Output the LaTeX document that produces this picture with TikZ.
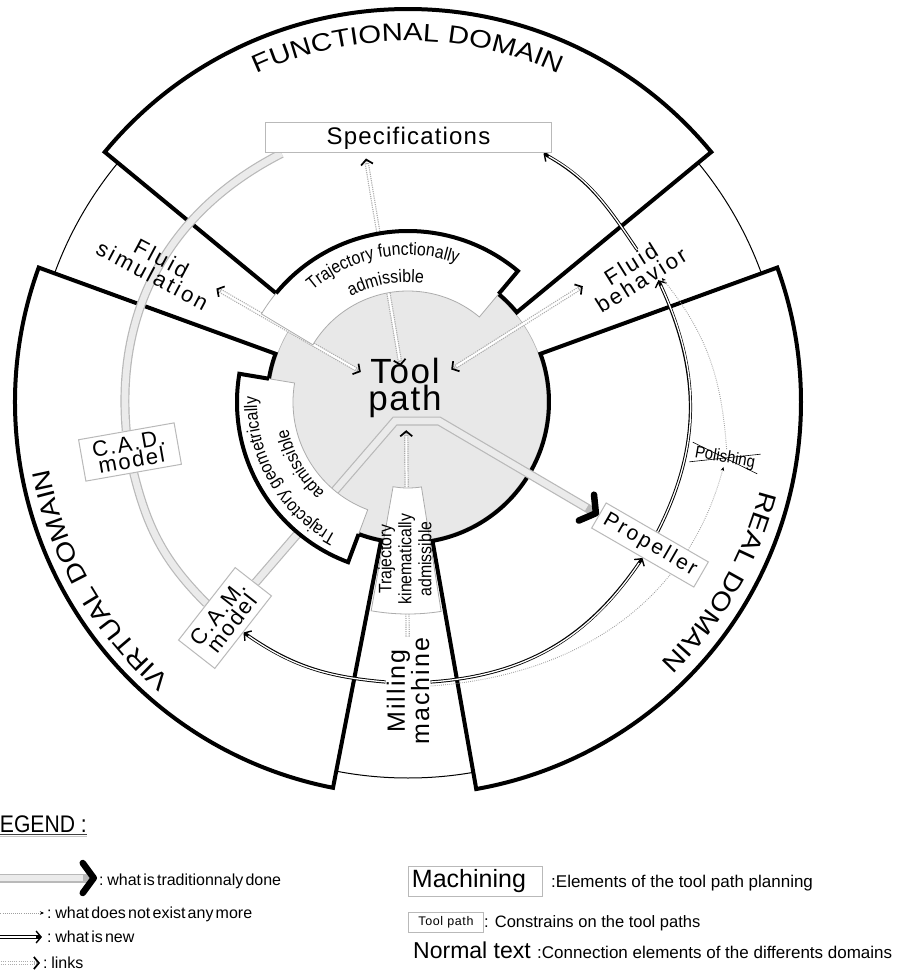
\documentclass[tikz,border=0pt]{standalone}
\usepackage{fontspec}
\setmainfont{Liberation Sans}
\newfontfamily\lsA[LetterSpace=5]{Liberation Sans}
\newfontfamily\lsB[LetterSpace=8]{Liberation Sans}
\newfontfamily\lsC[LetterSpace=12]{Liberation Sans}
\newfontfamily\narf[FakeStretch=0.88]{Liberation Sans}
\newfontfamily\widef[FakeStretch=1.17]{Liberation Sans}
\usetikzlibrary{arrows.meta,decorations.text}
\pgfdeclarelayer{Lzero}
\pgfdeclarelayer{Lone}
\pgfdeclarelayer{Ltwo}
\pgfsetlayers{Lzero,Lone,Ltwo,main}
\newcommand\annsec[4]{(#1:#3) -- (#1:#4) arc[start angle=#1, end angle=#2, radius=#4pt] -- (#2:#3) arc[start angle=#2, end angle=#1, radius=#3pt] -- cycle}
\newcommand\domfont{\widef\fontsize{25}{25}\selectfont}
\newcommand\cfont{\narf\fontsize{18}{18}\selectfont}
\newcommand\legfont{\fontsize{16}{16}\selectfont\spaceskip=2.2pt plus 0.5pt minus 0.5pt\relax}
\tikzset{
  domsec/.style={draw=black, fill=white, line width=4pt, line join=miter},
  thickedge/.style={draw=black, line width=4pt, line join=miter},
  thinedge/.style={draw=gray!65, line width=0.8pt},
  boxed/.style={draw=gray!55, fill=white, line width=1pt},
  tradplain/.style={draw=gray!55, line width=9pt, postaction={draw=gray!16, line width=6.6pt}},
  tradband/.style={draw=gray!55, line width=9pt, -{Straight Barb[color=black,length=11pt,width=30pt,line width=6.5pt,round]}, postaction={draw=gray!16, line width=6.6pt, -, shorten >=14pt}},
  newarr/.style={draw=black, line width=3.2pt, -{Straight Barb[color=black,length=5pt,width=12pt,line width=1.4pt]}, postaction={draw=white, line width=1.3pt, -, shorten >=6pt}},
  linkboth/.style={draw=gray!65, line width=4.4pt, dash pattern=on 1.1pt off 1.1pt, {Straight Barb[color=black,length=5pt,width=12pt,line width=1.7pt]}-{Straight Barb[color=black,length=5pt,width=12pt,line width=1.7pt]}, postaction={draw=white, line width=2pt, solid, -, shorten >=6pt, shorten <=6pt}},
  linkone/.style={draw=gray!65, line width=4.4pt, dash pattern=on 1.1pt off 1.1pt, -{Straight Barb[color=black,length=5pt,width=12pt,line width=1.7pt]}, postaction={draw=white, line width=2pt, solid, -, shorten >=6pt}},
  nomore/.style={draw=gray!75, line width=0.9pt, dash pattern=on 0.8pt off 1.3pt, -{Stealth[color=black,length=4pt,width=3.5pt]}},
  legtext/.style={anchor=base west, inner sep=0pt, font=\legfont},
}
\begin{document}
\begin{tikzpicture}[x=1pt, y=1pt]
\useasboundingbox (-408,-570) rectangle (498,402);
\begin{pgfonlayer}{Lzero}
\fill[white] (-408,-570) rectangle (498,402);
\draw[black, line width=1pt] (0,0) circle[radius=376pt];
\fill[gray!18] (0,0) circle[radius=139pt];
\draw[gray!60, line width=0.6pt] (0,0) circle[radius=139pt];
\draw[domsec] \annsec{39.5}{140.5}{141}{393};
\draw[domsec] \annsec{160}{259}{141}{393};
\draw[domsec] \annsec{-80}{20}{141}{393};
\path[decorate, decoration={text along path, text align=center, text={|\domfont|FUNCTIONAL DOMAIN}}] (135:361) arc[start angle=135, end angle=45, radius=361pt];
\path[decorate, decoration={text along path, text align=center, text={|\domfont|VIRTUAL DOMAIN}}] (255:365) arc[start angle=255, end angle=165, radius=365pt];
\path[decorate, decoration={text along path, text align=center, text={|\domfont|REAL DOMAIN}}] (15:363) arc[start angle=15, end angle=-75, radius=363pt];
\end{pgfonlayer}

% nodes
\node[boxed, minimum width=285pt, minimum height=30pt, inner sep=0pt, font=\lsA\fontsize{24}{24}\selectfont] (spec) at (0.5,264) {Specifications};
\node[boxed, rotate=10, minimum width=97pt, minimum height=42pt, inner sep=1pt, align=center, font=\lsB\fontsize{22}{17}\selectfont] (cad) at (-278,-50) {C.A.D.\\model};
\node[boxed, rotate=52, minimum width=92pt, minimum height=46pt, inner sep=1pt, align=center, font=\lsB\fontsize{22}{17}\selectfont] (cam) at (-183,-216) {C.A.M.\\model};
\node[boxed, rotate=-30, minimum width=118pt, minimum height=29pt, inner sep=1pt, font=\lsC\fontsize{21}{21}\selectfont] (prop) at (242,-143) {Propeller};
\node[rotate=-10, inner sep=1pt, font=\narf\fontsize{17}{17}\selectfont] (pol) at (317,-56) {Polishing};
\draw[black, line width=0.6pt, shorten <=-3pt, shorten >=-3pt] (pol.north west) -- (pol.south east);
\draw[black, line width=0.6pt, shorten <=-3pt, shorten >=-3pt] (pol.south west) -- (pol.north east);
\node[rotate=-28, align=center, inner sep=1pt, font=\lsC\fontsize{22}{19}\selectfont] (fluidsim) at (-251,135) {Fluid\\simulation};
\node[rotate=32, align=center, inner sep=1pt, font=\lsC\fontsize{22}{19}\selectfont] (fluidbeh) at (228,130) {Fluid\\behavior};
\node[rotate=90, align=center, inner sep=1pt, font=\lsB\fontsize{25}{21}\selectfont] (mill) at (0,-289) {Milling\\machine};
\node[minimum width=90pt, minimum height=64pt, inner sep=0pt] (toolpath) at (-2,4) {};
\node[align=center, inner sep=0pt, font=\lsA\fontsize{35}{24}\selectfont] (tptext) at (-3,14) {Tool\\path};
\coordinate (b1) at (-13,-19);
\coordinate (b2) at (31,-19);

\begin{pgfonlayer}{Lone}
\draw[tradplain] ([xshift=16pt]spec.south west) to[out=207, in=95] (cad.north);
\draw[tradplain] (cad.south) to[out=284, in=135] (cam.north);
\draw[tradband] (cam) -- (b1) -- (b2) -- (prop);
\draw[newarr] ([yshift=9pt]mill.north) to[out=175, in=325] (cam.south);
\draw[newarr] ([yshift=9pt]mill.south) to[out=4, in=236] (prop.south);
\draw[newarr] (prop.north) to[out=63, in=295] (fluidbeh.-52);
\draw[newarr] (fluidbeh.56) to[out=124, in=331] ([xshift=-8pt]spec.south east);
\draw[nomore] ([yshift=5pt]mill.south) to[out=4, in=255] (pol.south);
\draw[nomore] (pol.north) to[out=94, in=309] (fluidbeh.-45);
\draw[linkboth] (fluidsim.8) -- (toolpath);
\draw[linkboth] (fluidbeh.163) -- (toolpath);
\draw[linkboth] (toolpath) -- ([xshift=-42.5pt,yshift=-5pt]spec.south);
\draw[linkone] (mill) -- (toolpath);
\end{pgfonlayer}

\begin{pgfonlayer}{Ltwo}
\fill[white] \annsec{50}{149}{111}{171};
\draw[thinedge] \annsec{50}{149}{111}{171};
\draw[thickedge] (50:141) -- (50:171) arc[start angle=50, end angle=140.5, radius=171pt];
\fill[white] \annsec{170.5}{249.5}{115}{171};
\draw[thinedge] \annsec{170.5}{249.5}{115}{171};
\draw[thickedge] (170.5:141) -- (170.5:171) arc[start angle=170.5, end angle=249.5, radius=171pt] -- (249.5:141);
\fill[white] \annsec{260}{279}{86}{212};
\draw[thinedge] \annsec{260}{279}{86}{212};
\path[decorate, decoration={text along path, text align=center, text={|\cfont|Trajectory functionally}}] (150.5:147) arc[start angle=150.5, end angle=50.5, radius=147pt];
\path[decorate, decoration={text along path, text align=center, text={|\cfont|admissible}}] (150.5:120) arc[start angle=150.5, end angle=50.5, radius=120pt];
\path[decorate, decoration={text along path, text align=center, text={|\cfont|Trajectory geometrically}}] (250:151) arc[start angle=250, end angle=170, radius=151pt];
\path[decorate, decoration={text along path, text align=center, text={|\cfont|admissible}}] (250:123) arc[start angle=250, end angle=170, radius=123pt];
\node[rotate=90, align=center, inner sep=0pt, font=\narf\fontsize{18}{20}\selectfont] (tka) at (-3,-157) {Trajectory\\kinematically\\admissible};
\end{pgfonlayer}

% legend
\node[anchor=base west, inner sep=0pt, font=\narf\fontsize{24}{24}\selectfont] (lgd) at (-420,-430) {LEGEND :};
\draw[black!75, line width=1.1pt] ([yshift=-2.5pt]lgd.base west) -- ([yshift=-2.5pt]lgd.base east);
\draw[gray!45, line width=1.1pt] ([yshift=-4.6pt]lgd.base west) -- ([yshift=-4.6pt]lgd.base east);
\coordinate (la1) at (-418,-476); \coordinate (lb1) at (-311,-476);
\draw[tradband] (la1) -- (lb1);
\node[legtext] (lt1) at (-309,-483) {: what is traditionnaly done};
\coordinate (la2) at (-418,-511); \coordinate (lb2) at (-364,-511);
\draw[nomore] (la2) -- (lb2);
\node[legtext] (lt2) at (-361,-516) {: what does not exist any more};
\coordinate (la3) at (-418,-535); \coordinate (lb3) at (-366,-535);
\draw[newarr] (la3) -- (lb3);
\node[legtext] (lt3) at (-361,-540) {: what is new};
\coordinate (la4) at (-418,-561); \coordinate (lb4) at (-368,-561);
\draw[linkone] (la4) -- (lb4);
\node[legtext] (lt4) at (-365,-566) {: links};
\node[boxed, minimum width=133pt, minimum height=30pt, inner sep=3pt, text width=127pt, align=left, font=\fontsize{25}{25}\selectfont] (lmach) at (67.5,-479) {Machining};
\node[anchor=base west, inner sep=0pt, font=\fontsize{17}{17}\selectfont] (lmachd) at (143,-485) {:Elements of the tool path planning};
\node[boxed, minimum width=74pt, minimum height=20pt, inner sep=1pt, font=\lsA\fontsize{12.5}{12.5}\selectfont] (ltool) at (38,-520) {Tool path};
\node[anchor=base west, inner sep=0pt, font=\fontsize{16.5}{16.5}\selectfont] (ltoold) at (76,-525) {: Constrains on the tool paths};
\node[anchor=base west, inner sep=0pt, font=\fontsize{23}{23}\selectfont] (lnorm) at (5,-556) {Normal text};
\node[anchor=base west, inner sep=0pt, font=\fontsize{17}{17}\selectfont] (lnormd) at (129,-556) {:Connection elements of the differents domains};
\end{tikzpicture}
\end{document}
